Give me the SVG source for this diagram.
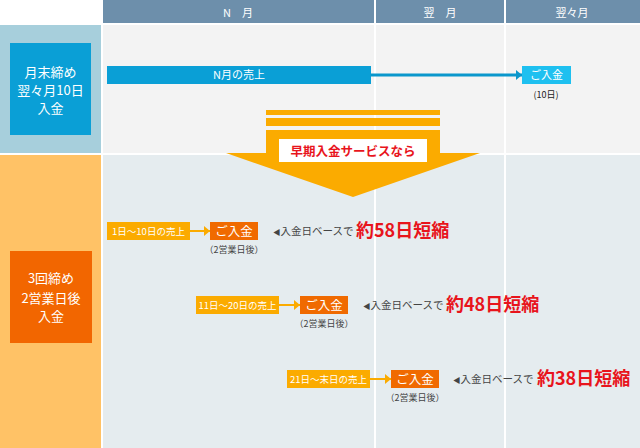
<svg xmlns="http://www.w3.org/2000/svg" width="640" height="448" viewBox="0 0 640 448">
<defs>
<style>
text{font-family:"Noto Sans CJK JP","Noto Sans",sans-serif;}
.hd{fill:#ffffff;font-size:11px;text-anchor:middle;}
.lbl{fill:#ffffff;font-size:13px;text-anchor:middle;}
.wb{fill:#ffffff;font-size:11px;text-anchor:middle;}
.sm{fill:#ffffff;font-size:9.5px;text-anchor:middle;}
.pay{fill:#ffffff;font-size:12.5px;text-anchor:middle;}
.note{fill:#444444;font-size:9px;text-anchor:middle;}
.base{fill:#444444;font-size:10.5px;}
.tri{font-size:7.5px;}
.big{fill:#e8141c;font-size:18px;font-weight:bold;}
.sales{fill:#fbab00;}
.payb{fill:#f06a00;}
</style>
<marker id="ah-blue" viewBox="0 0 6 10" refX="6" refY="5" markerWidth="6" markerHeight="10" markerUnits="userSpaceOnUse" orient="auto"><path d="M0,0 L6,5 L0,10 Z" fill="#0a97cc"/></marker>
<marker id="ah-or" viewBox="0 0 6 10" refX="6" refY="5" markerWidth="6" markerHeight="10" markerUnits="userSpaceOnUse" orient="auto"><path d="M0,0 L6,5 L0,10 Z" fill="#fbab00"/></marker>
</defs>
<rect x="0" y="0" width="640" height="448" fill="#ffffff"/>
<!-- header -->
<rect x="103" y="0" width="271" height="23" fill="#6d8fab"/>
<rect x="376" y="0" width="128" height="23" fill="#6d8fab"/>
<rect x="506" y="0" width="134" height="23" fill="#6d8fab"/>
<text class="hd" x="238" y="17">N　月</text>
<text class="hd" x="440" y="17">翌　月</text>
<text class="hd" x="572" y="17">翌々月</text>
<!-- row backgrounds -->
<rect x="0" y="25" width="101" height="128" fill="#a7cfdc"/>
<rect x="103" y="25" width="271" height="128" fill="#f3f3f3"/>
<rect x="376" y="25" width="128" height="128" fill="#f3f3f3"/>
<rect x="506" y="25" width="134" height="128" fill="#f3f3f3"/>
<rect x="0" y="155" width="101" height="293" fill="#ffc266"/>
<rect x="103" y="155" width="271" height="293" fill="#e5ecef"/>
<rect x="376" y="155" width="128" height="293" fill="#e5ecef"/>
<rect x="506" y="155" width="134" height="293" fill="#e5ecef"/>

<g id="label-monthly">
<rect x="10" y="43" width="81" height="92" fill="#0a9fd6"/>
<text class="lbl" x="50.5" y="77">月末締め</text>
<text class="lbl" x="50.5" y="95">翌々月10日</text>
<text class="lbl" x="50.5" y="113">入金</text>
</g>
<g id="label-3times">
<rect x="10" y="251" width="82" height="92" fill="#f26600"/>
<text class="lbl" x="51" y="283">3回締め</text>
<text class="lbl" x="51" y="303">2営業日後</text>
<text class="lbl" x="51" y="321">入金</text>
</g>

<g id="n-sales">
<rect x="107" y="66" width="264" height="18" fill="#0a9fd6"/>
<text class="wb" x="239" y="79">N月の売上</text>
</g>
<g id="pay-10">
<rect x="522" y="66" width="49" height="18" fill="#1ec0f0"/>
<text class="wb" x="546.5" y="79">ご入金</text>
<text class="note" x="546" y="98" style="fill:#222">(10日)</text>
</g>

<g id="early-arrow">
<rect x="266" y="110" width="174" height="5" fill="#fbab00"/>
<rect x="266" y="118" width="174" height="8" fill="#fbab00"/>
<path d="M266,130 H440 V153 H480 L353,197 L226,153 H266 Z" fill="#fbab00"/>
<rect x="279" y="139" width="148" height="23" fill="#ffffff"/>
<text x="353" y="156" style="fill:#e8141c;font-size:12.5px;font-weight:bold;text-anchor:middle">早期入金サービスなら</text>
</g>

<g id="row-a">
<rect class="sales" x="107" y="222" width="83" height="18"/>
<text class="sm" x="148.5" y="234.5">1日～10日の売上</text>
<rect class="payb" x="210" y="222" width="48" height="18"/>
<text class="pay" x="234" y="236">ご入金</text>
<text class="note" x="234" y="253">（2営業日後）</text>
<text class="base" x="273" y="235"><tspan class="tri">◀</tspan>入金日ベースで</text>
<text class="big" x="356" y="237">約58日短縮</text>
</g>
<g id="row-b">
<rect class="sales" x="196" y="296" width="83" height="18"/>
<text class="sm" x="237.5" y="308.5">11日～20日の売上</text>
<rect class="payb" x="300" y="296" width="48" height="18"/>
<text class="pay" x="324" y="310">ご入金</text>
<text class="note" x="324" y="327">（2営業日後）</text>
<text class="base" x="363" y="309"><tspan class="tri">◀</tspan>入金日ベースで</text>
<text class="big" x="446" y="311">約48日短縮</text>
</g>
<g id="row-c">
<rect class="sales" x="287" y="370" width="83" height="18"/>
<text class="sm" x="328.5" y="382.5">21日～末日の売上</text>
<rect class="payb" x="391" y="370" width="48" height="18"/>
<text class="pay" x="415" y="384">ご入金</text>
<text class="note" x="415" y="401">（2営業日後）</text>
<text class="base" x="453" y="383"><tspan class="tri">◀</tspan>入金日ベースで</text>
<text class="big" x="537" y="385">約38日短縮</text>
</g>

<g id="connectors">
<line x1="371" y1="75" x2="522" y2="75" stroke="#0a97cc" stroke-width="3" marker-end="url(#ah-blue)"/>
<line x1="190" y1="231" x2="210" y2="231" stroke="#fbab00" stroke-width="2" marker-end="url(#ah-or)"/>
<line x1="279" y1="305" x2="300" y2="305" stroke="#fbab00" stroke-width="2" marker-end="url(#ah-or)"/>
<line x1="370" y1="379" x2="391" y2="379" stroke="#fbab00" stroke-width="2" marker-end="url(#ah-or)"/>
</g>
</svg>
